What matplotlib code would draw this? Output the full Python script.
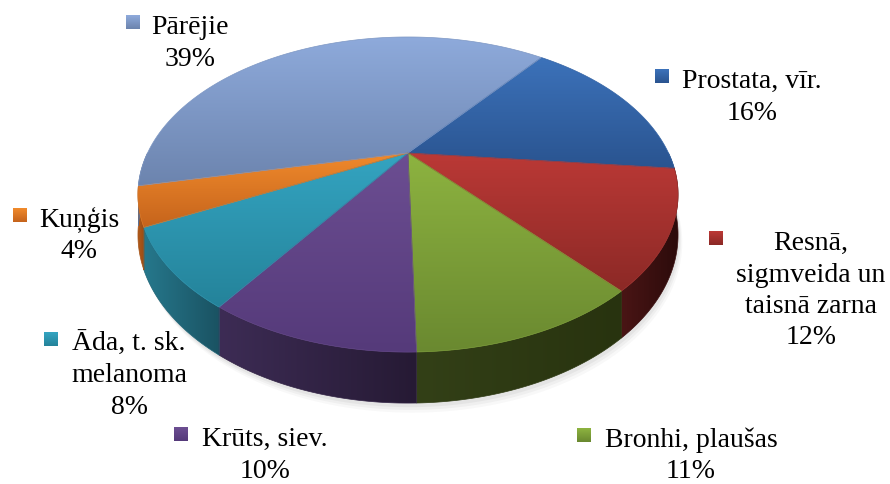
import numpy as np
import matplotlib.pyplot as plt
from matplotlib.patches import Polygon, Rectangle
from matplotlib.colors import to_rgb

plt.rcParams["font.family"] = "serif"
plt.rcParams["font.serif"] = ["Liberation Serif", "Times New Roman", "DejaVu Serif"]

# data
names = ["Prostata, vīr.", "Resnā,\nsigmveida un\ntaisnā zarna", "Bronhi, plaušas",
         "Krūts, siev.", "Āda, t. sk.\nmelanoma", "Kuņģis", "Pārējie"]
values = [16, 12, 11, 10, 8, 4, 39]

# colours: top face light/dark, side face light/dark
top_light = ["#3c72ba", "#bb3936", "#8db340", "#6c4e92", "#34a4c1", "#f08a2c", "#8eaadb"]
top_dark = ["#2a5490", "#8c2926", "#6a8930", "#553a7a", "#24839a", "#c6641c", "#6c84ae"]
side_light = ["#2a4f82", "#4a1515", "#334017", "#3d2c55", "#26788c", "#b05a1a", "#60779e"]
side_dark = ["#203d66", "#2c0b0b", "#28330f", "#261a34", "#1a5262", "#9a4c14", "#55698c"]

# label layout (text centre x, first baseline y, marker left x)
lab_x = [752, 811, 691, 265, 129, 79, 190]
lab_y = [88, 250, 447, 446, 351, 227, 34]
mark_x = [655, 709, 577, 174, 44, 13, 126]

# pie geometry in pixels (perspective disc)
CX, CY = 408, 153
A, B, K = 260.5, 146.6, 0.2635
DEPTH = 37.6
START = 51.8


def project(theta, depth=0.0):
    u, v = np.cos(theta), np.sin(theta)
    w = 1 + K * v
    return CX + A * u / w, CY - B * v / w + depth / w


def grad_fill(ax, xs, ys, c1, c2, horizontal=False, z=2):
    c1, c2 = np.array(to_rgb(c1)), np.array(to_rgb(c2))
    poly = Polygon(np.column_stack([xs, ys]), closed=True, facecolor="none",
                   edgecolor="none", zorder=z)
    ax.add_patch(poly)
    t = np.linspace(0, 1, 200)[:, None, None]
    img = c1 + (c2 - c1) * t
    if horizontal:
        img = img.transpose(1, 0, 2)
    im = ax.imshow(img, extent=(xs.min(), xs.max(), ys.max(), ys.min()), origin="upper",
                   aspect="auto", interpolation="bilinear", zorder=z)
    im.set_clip_path(poly)
    # thin edge to soften the clipped border
    ax.add_patch(Polygon(np.column_stack([xs, ys]), closed=True, facecolor="none",
                         edgecolor=tuple((c1 + c2) / 2), lw=0.5, zorder=z + 0.1))


fig = plt.figure(figsize=(8.9, 4.84), dpi=100)
ax = fig.add_axes([0, 0, 1, 1])
ax.set_xlim(0, 890)
ax.set_ylim(484, 0)
ax.axis("off")

bounds = np.deg2rad(START - 360 * np.concatenate([[0], np.cumsum(values)]) / sum(values))

# soft shadow under the pie
tt = np.linspace(0, 2 * np.pi, 300)
for off, a in [(7, 0.05), (5, 0.07), (3, 0.09)]:
    sx, sy = project(tt, DEPTH + off)
    ax.fill(sx + off * 0.6, sy, color="#7f7f7f", alpha=a, lw=0, zorder=1)

# side faces (front half only)
for i in range(len(values)):
    b0, b1 = bounds[i], bounds[i + 1]
    for n in (-1, 0, 1):
        lo = max(b1, -np.pi + 2 * np.pi * n)
        hi = min(b0, 2 * np.pi * n)
        if hi <= lo:
            continue
        th = np.linspace(lo, hi, 80)
        x1, y1 = project(th)
        x2, y2 = project(th[::-1], DEPTH)
        grad_fill(ax, np.concatenate([x1, x2]), np.concatenate([y1, y2]),
                  side_light[i], side_dark[i], horizontal=True, z=2)

# top faces
for i in range(len(values)):
    th = np.linspace(bounds[i], bounds[i + 1], 150)
    x, y = project(th)
    xs = np.concatenate([[CX], x])
    ys = np.concatenate([[CY], y])
    grad_fill(ax, xs, ys, top_light[i], top_dark[i], z=4)

# labels with small legend keys
for i in range(len(values)):
    lines = names[i].split("\n") + [f"{values[i]}%"]
    for j, s in enumerate(lines):
        ax.text(lab_x[i], lab_y[i] + j * 31.5, s, ha="center", va="baseline",
                fontsize=20, color="black", zorder=10)
    m = Rectangle((mark_x[i], lab_y[i] - 19), 14, 14, zorder=10, lw=0, facecolor="none")
    ax.add_patch(m)
    c1, c2 = np.array(to_rgb(top_light[i])), np.array(to_rgb(top_dark[i]))
    g = c1 + (c2 - c1) * np.linspace(0, 1, 20)[:, None, None]
    im = ax.imshow(g, extent=(mark_x[i], mark_x[i] + 14, lab_y[i] - 5, lab_y[i] - 19),
                   origin="upper", aspect="auto", zorder=10)
    im.set_clip_path(m)

ax.set_xlim(0, 890)
ax.set_ylim(484, 0)
fig.savefig("out.png", dpi=100)
